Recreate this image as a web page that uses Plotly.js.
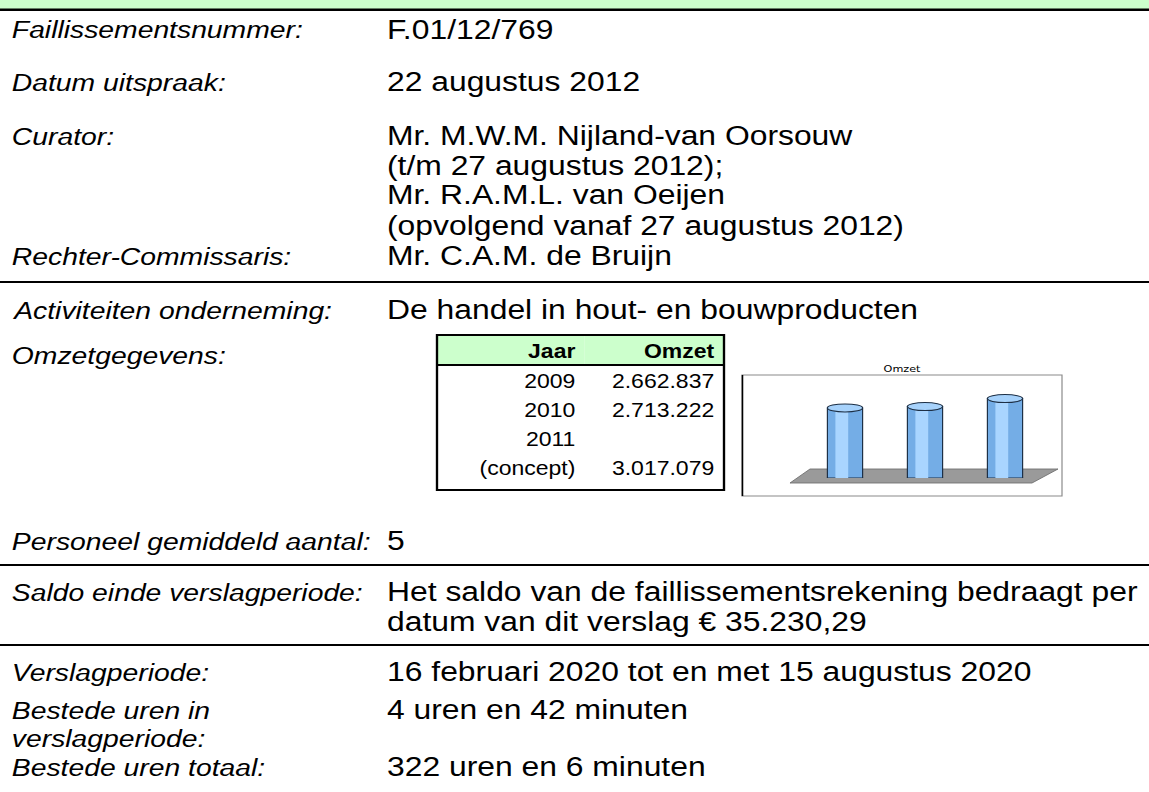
<!DOCTYPE html>
<html>
<head>
<meta charset="utf-8">
<script src="https://cdn.plot.ly/plotly-3.0.1.min.js"></script>
<style>
html,body{margin:0;padding:0;background:#fff;overflow:hidden;}
#wrap{width:1149px;height:792px;overflow:hidden;}
#plot{transform-origin:0 0;}
</style>
</head>
<body>
<div id="wrap"><div id="plot"></div></div>
<script>
// ---- data ----
const years = ['2009', '2010', '2011 (concept)'];
const omzet = [2662837, 2713222, 3017079];
const chartTitle = 'Omzet';
const tableHeader = ['Jaar', 'Omzet'];

const labels = ['Faillissementsnummer:', 'Datum uitspraak:', 'Curator:', 'Rechter-Commissaris:',
  'Activiteiten onderneming:', 'Omzetgegevens:', 'Personeel gemiddeld aantal:',
  'Saldo einde verslagperiode:', 'Verslagperiode:', 'Bestede uren in', 'verslagperiode:', 'Bestede uren totaal:'];
const values = ['F.01/12/769', '22 augustus 2012', 'Mr. M.W.M. Nijland-van Oorsouw',
  '(t/m 27 augustus 2012);', 'Mr. R.A.M.L. van Oeijen', '(opvolgend vanaf 27 augustus 2012)',
  'Mr. C.A.M. de Bruijn', 'De handel in hout- en bouwproducten', '5',
  'Het saldo van de faillissementsrekening bedraagt per', 'datum van dit verslag € 35.230,29',
  '16 februari 2020 tot en met 15 augustus 2020', '4 uren en 42 minuten', '322 uren en 6 minuten'];

// ---- layout helpers (pixel -> paper) ----
const W = 1149, H = 792;
const PW = 974;               // figure drawn narrower, then stretched horizontally like the source page
const S = W / PW;
const px = x => x / W;
const py = y => 1 - y / H;

const labelY = [30, 82, 136, 256, 310, 355, 541, 592, 672, 710, 738, 767];
const valueY = [30, 82, 136, 166, 195, 226, 256, 310, 541, 592, 622, 672, 710, 767];
const labelX = 9, valueX = 385;
const FONT = 'Liberation Sans, Arial, sans-serif';

const annotations = [];
labels.forEach((t, i) => annotations.push({
  text: t, xref: 'paper', yref: 'paper', x: px(labelX), y: py(labelY[i]),
  xanchor: 'left', yanchor: 'middle', showarrow: false,
  font: {family: FONT, size: 24, color: '#000', style: 'italic'}
}));
values.forEach((t, i) => annotations.push({
  text: t, xref: 'paper', yref: 'paper', x: px(valueX), y: py(valueY[i]),
  xanchor: 'left', yanchor: 'middle', showarrow: false,
  font: {family: FONT, size: 27, color: '#000'}
}));
annotations.push({
  text: chartTitle, xref: 'paper', yref: 'paper', x: px(902), y: py(368),
  xanchor: 'center', yanchor: 'middle', showarrow: false,
  font: {family: 'DejaVu Sans, sans-serif', size: 9.5, color: '#000'}
});

const hline = (y, w) => ({type: 'line', xref: 'paper', yref: 'paper', x0: 0, x1: 1, y0: py(y), y1: py(y),
  line: {color: '#000', width: w}});

const fmt = v => String(v).replace(/\B(?=(\d{3})+(?!\d))/g, '.');
// table rows: a two-word year label is split over two rows, value on the last one
const colYear = [], colVal = [];
years.forEach((y, i) => {
  const parts = y.split(' ');
  parts.forEach((p, j) => {
    colYear.push(p);
    colVal.push(j === parts.length - 1 ? fmt(omzet[i]) : '');
  });
});

const catIdx = years.map((_, i) => i);

const shapes = [
  {type: 'rect', xref: 'paper', yref: 'paper', x0: 0, x1: 1, y0: py(0), y1: py(9), fillcolor: '#CCFFCC', line: {width: 0}, layer: 'below'},
  hline(9.8, 2.6), hline(282, 2), hline(565, 2), hline(645, 2),
  // chart box
  {type: 'rect', xref: 'paper', yref: 'paper', x0: px(742), x1: px(1062), y0: py(375), y1: py(496),
    line: {color: '#8a8a8a', width: 1}, fillcolor: 'rgba(0,0,0,0)', layer: 'below'},
  {type: 'line', xref: 'paper', yref: 'paper', x0: px(742.5), x1: px(742.5), y0: py(375), y1: py(496),
    line: {color: '#000', width: 1.3}},
  // floor
  {type: 'path', xref: 'paper', yref: 'paper', layer: 'below',
    path: `M ${px(790)},${py(483)} L ${px(1032)},${py(483)} L ${px(1058)},${py(469)} L ${px(810)},${py(469)} Z`,
    fillcolor: '#9a9a9a', line: {color: '#6e6e6e', width: 0.8}},
  // header separator and table border
  {type: 'line', xref: 'paper', yref: 'paper', x0: px(437), x1: px(724), y0: py(365), y1: py(365),
    line: {color: '#000', width: 2}, layer: 'above'},
  {type: 'rect', xref: 'paper', yref: 'paper', x0: px(437), x1: px(724), y0: py(335), y1: py(490),
    line: {color: '#000', width: 2}, fillcolor: 'rgba(0,0,0,0)', layer: 'above'}
];

// cylinder bottoms and tops
catIdx.forEach((i) => {
  shapes.push({type: 'circle', xref: 'x', yref: 'y', layer: 'below',
    x0: i - 0.22, x1: i + 0.22, ysizemode: 'pixel', yanchor: 0, y0: -4, y1: 4,
    fillcolor: '#74ade6', line: {color: '#1d2f45', width: 1}});
  shapes.push({type: 'circle', xref: 'x', yref: 'y', layer: 'above',
    x0: i - 0.22, x1: i + 0.22, ysizemode: 'pixel', yanchor: omzet[i], y0: -4, y1: 4,
    fillcolor: '#a7d2fb', line: {color: '#1d2f45', width: 1}});
});

const traces = [
  {type: 'table', domain: {x: [px(437), px(724)], y: [py(490), py(335)]},
    columnwidth: [148, 139],
    header: {values: tableHeader, align: 'right', height: 30,
      fill: {color: '#CCFFCC'}, line: {color: '#CCFFCC', width: 0},
      font: {family: FONT, size: 19.5, color: '#000', weight: 'bold'}},
    cells: {values: [colYear, colVal], align: 'right', height: 29,
      fill: {color: '#fff'}, line: {color: '#fff', width: 0},
      font: {family: FONT, size: 19.5, color: '#000'}}
  },
  {type: 'bar', x: catIdx, y: omzet, width: 0.44, hoverinfo: 'skip',
    marker: {color: '#74ade6', line: {color: '#1d2f45', width: 1}}},
  {type: 'bar', x: catIdx, y: omzet, width: 0.16, offset: -0.12, hoverinfo: 'skip',
    marker: {color: '#a9d5ff', line: {width: 0}}}
];

const layout = {
  width: PW, height: H, margin: {l: 0, r: 0, t: 0, b: 0},
  paper_bgcolor: '#fff', plot_bgcolor: 'rgba(0,0,0,0)',
  showlegend: false, barmode: 'overlay',
  xaxis: {domain: [px(805), px(1045)], range: [-0.5, 2.5], visible: false, fixedrange: true},
  yaxis: {domain: [py(478), py(378)], range: [0, 3800000], visible: false, fixedrange: true},
  annotations: annotations, shapes: shapes
};

document.getElementById('plot').style.transform = 'scaleX(' + S + ')';
Plotly.newPlot('plot', traces, layout, {displayModeBar: false, staticPlot: true});
</script>
</body>
</html>
